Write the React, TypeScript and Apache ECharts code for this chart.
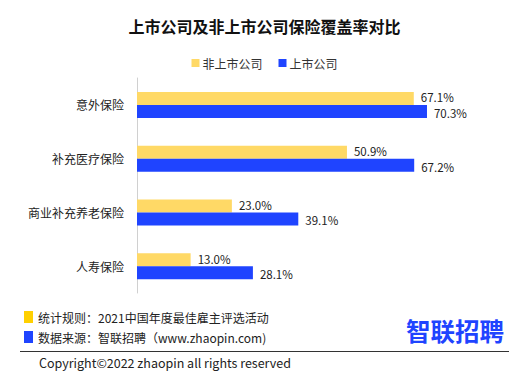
import React, { useEffect, useRef } from "react";
import * as echarts from "echarts";

const categories = ["意外保险", "补充医疗保险", "商业补充养老保险", "人寿保险"];
const nonListed = [67.1, 50.9, 23.0, 13.0];
const listed = [70.3, 67.2, 39.1, 28.1];
const seriesNames = ["非上市公司", "上市公司"];
const titleText = "上市公司及非上市公司保险覆盖率对比";
const note1 = "统计规则：2021中国年度最佳雇主评选活动";
const note2 = "数据来源：智联招聘（www.zhaopin.com)";
const copyright = "Copyright©2022 zhaopin all rights reserved";
const logoText = "智联招聘";

const FONT = "'Noto Sans CJK SC', 'Noto Sans', sans-serif";
const YELLOW = "#FFD966";
const BLUE = "#1F44FF";

export default function App() {
  const ref = useRef<HTMLDivElement>(null);
  useEffect(() => {
    document.body.style.margin = "0";
    if (!ref.current) return;
    const chart = echarts.init(ref.current, undefined, { renderer: "svg" });
    const makeLabel = (dy: number) => ({
      show: true,
      position: "right" as const,
      distance: 7,
      offset: [0, dy],
      color: "#222",
      fontSize: 11.5,
      lineHeight: 12,
      fontFamily: FONT,
      formatter: (p: any) => Number(p.value).toFixed(1) + "%",
    });
    chart.setOption({
      animation: false,
      backgroundColor: "#fff",
      textStyle: { fontFamily: FONT },
      title: {
        text: titleText,
        left: "center",
        top: 13,
        textStyle: { fontSize: 16, fontWeight: "bold", color: "#111", fontFamily: FONT },
      },
      legend: {
        top: 52,
        left: "center",
        itemWidth: 8,
        itemHeight: 8,
        itemGap: 16,
        icon: "rect",
        textStyle: { fontSize: 12, color: "#333", fontFamily: FONT, padding: [0, 0, 0, -2] },
        data: seriesNames,
      },
      grid: { left: 137, top: 78, bottom: 87, right: 62 },
      xAxis: {
        type: "value",
        min: 0,
        max: 80,
        show: false,
        splitLine: { show: false },
      },
      yAxis: {
        type: "category",
        data: categories,
        inverse: true,
        axisLine: { show: true, lineStyle: { color: "#d0d0d0", width: 1 } },
        axisTick: { show: false },
        axisLabel: { fontSize: 12, color: "#222", margin: 13, fontFamily: FONT },
      },
      series: [
        {
          name: seriesNames[0],
          type: "bar",
          data: nonListed,
          barWidth: 13,
          barGap: "0%",
          itemStyle: { color: YELLOW },
          label: makeLabel(-1),
        },
        {
          name: seriesNames[1],
          type: "bar",
          data: listed,
          barWidth: 13,
          barGap: "0%",
          itemStyle: { color: BLUE },
          label: makeLabel(1.5),
        },
      ],
      graphic: [
        { type: "rect", shape: { x: 24, y: 311, width: 9, height: 12 }, style: { fill: "#FFD000" } },
        {
          type: "text",
          x: 38,
          y: 317.5,
          style: { text: note1, fontSize: 12, fill: "#222", fontFamily: FONT, verticalAlign: "middle" },
        },
        { type: "rect", shape: { x: 24, y: 331, width: 9, height: 12 }, style: { fill: BLUE } },
        {
          type: "text",
          x: 38,
          y: 337,
          style: { text: note2, fontSize: 12, fill: "#222", fontFamily: FONT, verticalAlign: "middle" },
        },
        {
          type: "line",
          shape: { x1: 20, y1: 351.5, x2: 509, y2: 351.5 },
          style: { stroke: "#333", lineWidth: 1 },
        },
        {
          type: "text",
          x: 39,
          y: 362,
          style: { text: copyright, fontSize: 12.5, fill: "#222", fontFamily: FONT, verticalAlign: "middle" },
        },
        {
          type: "text",
          x: 406,
          y: 330,
          style: {
            text: logoText,
            fontSize: 24.5,
            fontWeight: "bold",
            fill: BLUE,
            fontFamily: FONT,
            verticalAlign: "middle",
          },
        },
      ],
    });
    return () => chart.dispose();
  }, []);
  return <div ref={ref} style={{ width: 529, height: 380 }} />;
}
